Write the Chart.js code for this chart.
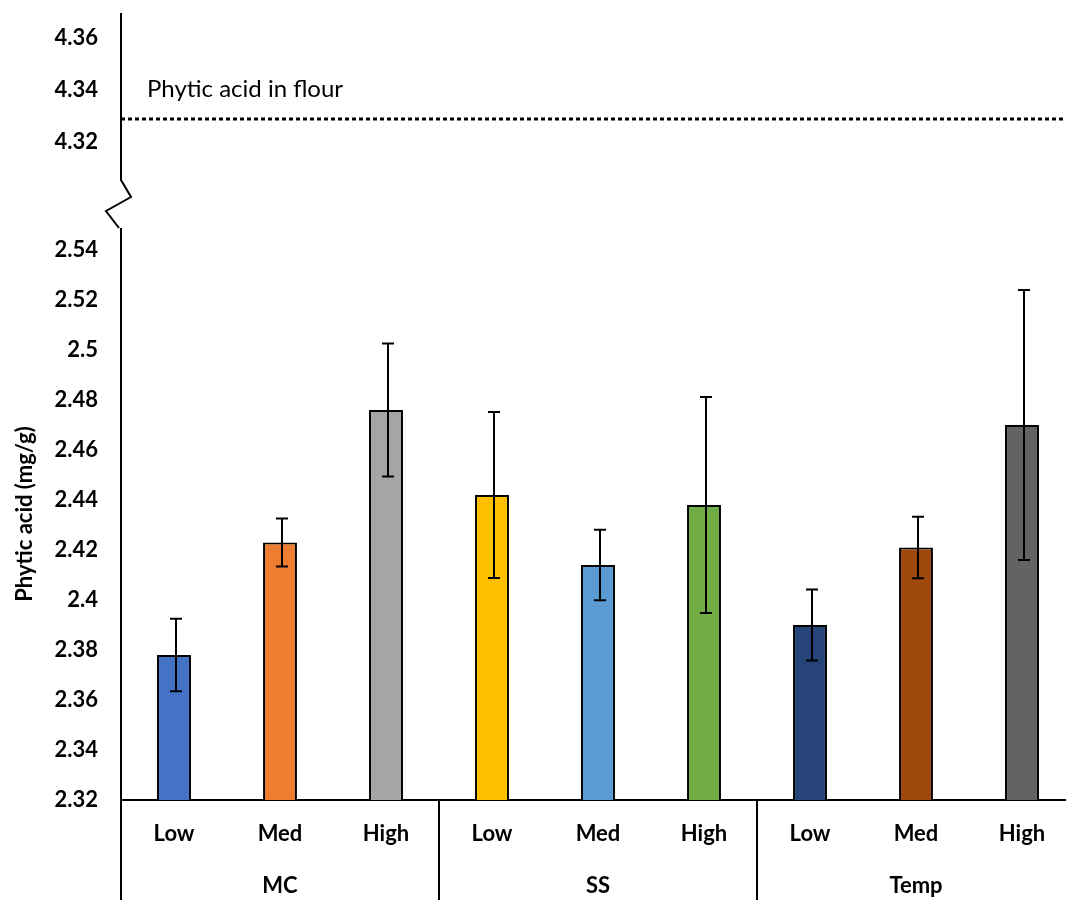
<!DOCTYPE html>
<html>
<head>
<meta charset="utf-8">
<script src="https://cdn.jsdelivr.net/npm/chart.js@4"></script>
<style>
  body { margin: 0; background: #fff; overflow: hidden; }
  #wrap { position: relative; width: 1066px; height: 900px; overflow: hidden; }
  canvas { position: absolute; left: 0; }
  #top { top: 0; }
  #bottom { top: 228px; }
</style>
</head>
<body>
<div id="wrap">
  <canvas id="top" width="1075" height="230"></canvas>
  <canvas id="bottom" width="1075" height="672"></canvas>
</div>
<script>
// data
const groups = ["MC", "SS", "Temp"];
const levels = ["Low", "Med", "High"];
const categories = ["Low", "Med", "High", "Low", "Med", "High", "Low", "Med", "High"];
const phyticValues = [2.378, 2.423, 2.476, 2.442, 2.414, 2.438, 2.390, 2.421, 2.470];
const phyticErrors = [0.0145, 0.0096, 0.0266, 0.0332, 0.0141, 0.0432, 0.0142, 0.0123, 0.054];
const barColors = ["#4472C4", "#ED7D31", "#A5A5A5", "#FFC000", "#5B9BD5", "#70AD47", "#264478", "#9E480E", "#636363"];
const flourValue = 4.3288;
const upperTicks = [4.32, 4.34, 4.36];
const lowerTicks = [2.32, 2.34, 2.36, 2.38, 2.4, 2.42, 2.44, 2.46, 2.48, 2.5, 2.52, 2.54];

const FONT = "Lato, 'Open Sans', sans-serif";
const tickFont = { family: FONT, size: 22, weight: "bold" };

function fixTicks(values) {
  return (scale) => { scale.ticks = values.map((v) => ({ value: v })); };
}
// keep the y axis exactly 121px wide and stop it from padding the chart area
function yFit(scale) {
  scale.width = 121;
  scale.paddingTop = 0;
  scale.paddingBottom = 0;
}

// upper part: flour reference line
const flourLabel = {
  id: "flourLabel",
  afterDraw(chart) {
    const ctx = chart.ctx;
    const area = chart.chartArea;
    const y = chart.scales.y.getPixelForValue(flourValue);
    ctx.save();
    ctx.fillStyle = "#000";
    ctx.font = "24px " + FONT;
    ctx.textBaseline = "alphabetic";
    ctx.fillText("Phytic acid in flour", area.left + 26, y - 22);
    // axis break
    ctx.strokeStyle = "#000";
    ctx.lineWidth = 2;
    ctx.beginPath();
    ctx.moveTo(area.left, area.bottom);
    ctx.lineTo(area.left + 10, area.bottom + 17);
    ctx.lineTo(area.left - 15, area.bottom + 31);
    ctx.lineTo(area.left - 2, area.bottom + 48);
    ctx.stroke();
    ctx.restore();
  }
};

new Chart(document.getElementById("top"), {
  type: "line",
  data: {
    datasets: [{
      data: [{ x: 0, y: flourValue }, { x: 1, y: flourValue }],
      borderColor: "#000",
      borderWidth: 3,
      borderDash: [4, 3],
      pointRadius: 0
    }]
  },
  options: {
    responsive: false,
    animation: false,
    layout: { padding: { top: 14, bottom: 50, left: 0, right: 0 } },
    plugins: { legend: { display: false }, tooltip: { enabled: false } },
    scales: {
      x: { type: "linear", min: 0, max: 1, display: false },
      y: {
        min: 4.3054, max: 4.3692,
        afterBuildTicks: fixTicks(upperTicks),
        afterFit: yFit,
        grid: { display: false, drawTicks: false },
        border: { display: true, color: "#000", width: 2 },
        ticks: { font: tickFont, color: "#000", padding: 23, callback: (v) => v }
      }
    }
  },
  plugins: [flourLabel]
});

// lower part: bars with error bars and grouped axis
const errorBars = {
  id: "errorBars",
  afterDatasetsDraw(chart) {
    const ctx = chart.ctx;
    const x = chart.scales.x, y = chart.scales.y;
    ctx.save();
    ctx.strokeStyle = "#000";
    ctx.lineWidth = 2;
    phyticValues.forEach((v, i) => {
      const cx = x.getPixelForValue(i) + 2;
      const hi = y.getPixelForValue(v + phyticErrors[i]);
      const lo = y.getPixelForValue(v - phyticErrors[i]);
      ctx.beginPath();
      ctx.moveTo(cx, hi); ctx.lineTo(cx, lo);
      ctx.moveTo(cx - 6, hi); ctx.lineTo(cx + 6, hi);
      ctx.moveTo(cx - 6, lo); ctx.lineTo(cx + 6, lo);
      ctx.stroke();
    });
    ctx.restore();
  }
};

const groupAxis = {
  id: "groupAxis",
  afterDraw(chart) {
    const ctx = chart.ctx;
    const x = chart.scales.x;
    const area = chart.chartArea;
    const step = x.getPixelForValue(1) - x.getPixelForValue(0);
    ctx.save();
    ctx.strokeStyle = "#000";
    ctx.lineWidth = 2;
    ctx.beginPath();
    for (let g = 0; g <= groups.length; g++) {
      const px = g === 0 ? area.left : x.getPixelForValue(g * levels.length) - step / 2;
      ctx.moveTo(px, area.bottom);
      ctx.lineTo(px, chart.height);
    }
    ctx.stroke();
    ctx.fillStyle = "#000";
    ctx.font = "bold 22px " + FONT;
    ctx.textAlign = "center";
    ctx.textBaseline = "middle";
    groups.forEach((name, g) => {
      const mid = x.getPixelForValue(g * levels.length + 1);
      ctx.fillText(name, mid, area.bottom + 86);
    });
    ctx.restore();
  }
};

new Chart(document.getElementById("bottom"), {
  type: "bar",
  data: {
    labels: categories,
    datasets: [{
      data: phyticValues,
      backgroundColor: barColors,
      borderColor: "#000",
      borderWidth: 2,
      borderSkipped: false,
      barPercentage: 0.32,
      categoryPercentage: 1
    }]
  },
  options: {
    responsive: false,
    animation: false,
    layout: { padding: 0 },
    plugins: { legend: { display: false }, tooltip: { enabled: false } },
    scales: {
      x: {
        afterFit: (s) => { s.height = 100; },
        grid: { display: false, drawTicks: false },
        border: { display: true, color: "#000", width: 2 },
        ticks: { font: tickFont, color: "#000", padding: 21 }
      },
      y: {
        min: 2.32, max: 2.5488,
        afterBuildTicks: fixTicks(lowerTicks),
        afterFit: yFit,
        grid: { display: false, drawTicks: false },
        border: { display: true, color: "#000", width: 2 },
        ticks: { font: tickFont, color: "#000", padding: 23, callback: (v) => v },
        title: {
          display: true,
          text: "Phytic acid (mg/g)",
          font: { family: FONT, size: 22, weight: "bold" },
          color: "#000",
          padding: { top: 12, bottom: 0 }
        }
      }
    }
  },
  plugins: [errorBars, groupAxis]
});
</script>
</body>
</html>
